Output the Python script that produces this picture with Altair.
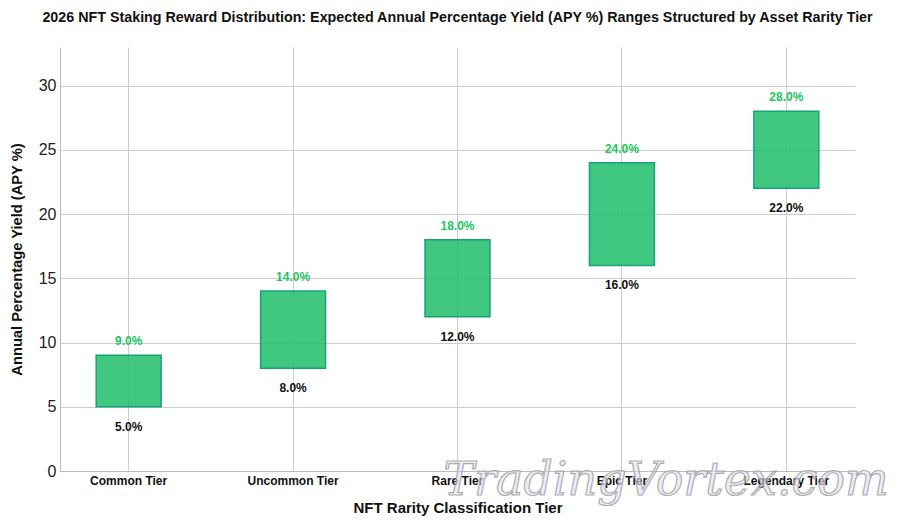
import altair as alt
import pandas as pd

tiers = ["Common Tier", "Uncommon Tier", "Rare Tier", "Epic Tier", "Legendary Tier"]
apy_low = [5.0, 8.0, 12.0, 16.0, 22.0]
apy_high = [9.0, 14.0, 18.0, 24.0, 28.0]

df = pd.DataFrame({"tier": tiers, "low": apy_low, "high": apy_high})

FONT = "Liberation Sans"

x_enc = alt.X(
    "tier:N",
    sort=tiers,
    scale=alt.Scale(paddingInner=0.605, paddingOuter=0.22),
    axis=alt.Axis(
        title="NFT Rarity Classification Tier",
        labelAngle=0,
        labelFont=FONT,
        labelFontSize=12,
        labelFontWeight="bold",
        labelColor="#111111",
        labelPadding=4,
        ticks=False,
        tickBand="center",
        tickExtra=False,
        grid=True,
        gridColor="#cccccc",
        domainColor="#bbbbbb",
        titleFont=FONT,
        titleFontSize=15,
        titleFontWeight="bold",
        titleColor="#111111",
        titlePadding=14,
    ),
)

y_scale = alt.Scale(domain=[0, 33], nice=False)
y_axis = alt.Axis(
    title="Annual Percentage Yield (APY %)",
    values=[0, 5, 10, 15, 20, 25, 30],
    labelFont=FONT,
    labelFontSize=16,
    labelColor="#222222",
    labelPadding=4,
    ticks=False,
    grid=True,
    gridColor="#cccccc",
    domainColor="#bbbbbb",
    titleFont=FONT,
    titleFontSize=14.7,
    titleFontWeight="bold",
    titleColor="#111111",
    titlePadding=14,
)

base = alt.Chart(df).transform_calculate(
    hi_label="format(datum.high, '.1f') + '%'",
    lo_label="format(datum.low, '.1f') + '%'",
)

bars = base.mark_bar(
    fill="#1fbe6a", fillOpacity=0.85, stroke="#16a37a", strokeWidth=1.5
).encode(
    x=x_enc,
    y=alt.Y("low:Q", scale=y_scale, axis=y_axis),
    y2="high:Q",
)

hi_text = base.mark_text(
    dy=-14, font=FONT, fontSize=12, fontWeight="bold", color="#22c55e"
).encode(x=x_enc, y=alt.Y("high:Q", scale=y_scale, axis=y_axis), text="hi_label:N")

lo_text = base.mark_text(
    dy=20, font=FONT, fontSize=12, fontWeight="bold", color="#111111"
).encode(x=x_enc, y=alt.Y("low:Q", scale=y_scale, axis=y_axis), text="lo_label:N")

wm = alt.Chart(pd.DataFrame({"t": ["TradingVortex.com"]})).mark_text(
    font="DejaVu Serif",
    fontSize=46,
    fontStyle="italic",
    fill="#e2def2",
    fillOpacity=0.6,
    stroke="#9a9a9a",
    strokeWidth=1.2,
    strokeOpacity=0.8,
    baseline="alphabetic",
    align="center",
).encode(x=alt.value(606), y=alt.value(448), text="t:N")

chart = (
    alt.layer(bars, hi_text, lo_text, wm)
    .properties(
        width=795,
        height=424,
        background="white",
        autosize=alt.AutoSizeParams(type="none"),
        padding={"left": 60, "top": 47, "right": 44, "bottom": 54},
        title=alt.Title(
            "2026 NFT Staking Reward Distribution: Expected Annual Percentage Yield (APY %) Ranges Structured by Asset Rarity Tier",
            font=FONT,
            fontSize=14.3,
            fontWeight="bold",
            color="#111111",
            anchor="middle",
            offset=22,
        ),
    )
    .configure_view(stroke=None)
)

chart.save("out.html", embed_options={"renderer": "svg", "actions": False})
